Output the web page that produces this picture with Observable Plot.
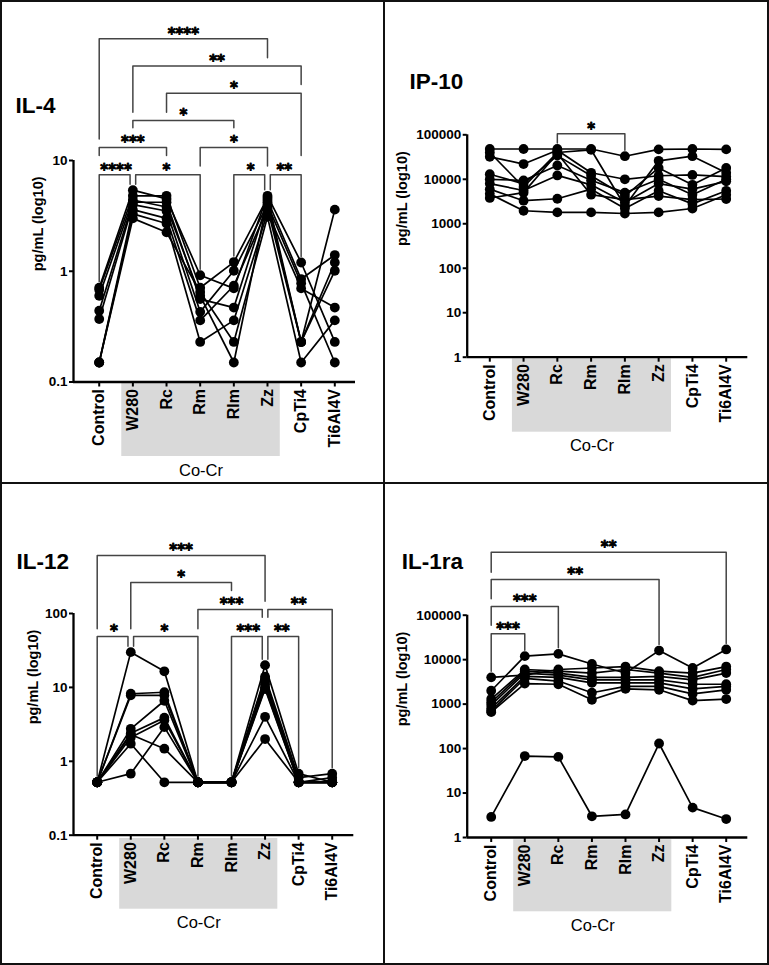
<!DOCTYPE html>
<html><head><meta charset="utf-8">
<script src="https://cdn.jsdelivr.net/npm/d3@7"></script>
<script src="https://cdn.jsdelivr.net/npm/@observablehq/plot@0.6"></script>
<style>
html,body{margin:0;padding:0;background:#fff;}
#fig{position:relative;width:769px;height:965px;overflow:hidden;background:#fff;}
.panel{position:absolute;}
.rule{position:absolute;background:#111;}
</style></head><body>
<div id="fig"></div>
<script>
// ---- categories ----
const categories = ["Control","W280","Rc","Rm","Rlm","Zz","CpTi4","Ti6Al4V"];
const coCrGroup = ["W280","Rc","Rm","Rlm","Zz"];
const groupLabel = "Co-Cr";
const yLabel = "pg/mL (log10)";

// ---- IL-4 ----
const il4Ticks = [0.1, 1, 10];
const il4Values = [
  [0.71, 5.4, 4.5, 0.92, 0.70, 4.8, 1.2, 0.23],
  [0.68, 4.8, 4.8, 0.71, 1.21, 4.6, 0.23, 3.6],
  [0.60, 4.4, 3.8, 0.60, 0.15, 4.4, 0.85, 1.4],
  [0.44, 4.2, 4.2, 0.56, 0.47, 4.2, 0.23, 1.2],
  [0.37, 4.0, 3.5, 0.43, 1.01, 4.0, 0.78, 0.15],
  [0.15, 3.6, 3.0, 0.36, 0.74, 3.7, 0.23, 1.01],
  [0.15, 3.3, 2.7, 0.23, 0.36, 3.4, 0.70, 0.47],
  [0.15, 3.0, 2.25, 0.65, 0.23, 3.1, 0.15, 0.36]
];
// [from, to, label, tier, left leg end tier, right leg end tier] (null = down to data)
const il4Brackets = [
  ["Control","Zz","****",6,2.32,5.30],
  ["W280","CpTi4","**",5,3.30,4.32],
  ["Rc","CpTi4","*",4,3.30,1.71],
  ["W280","Rlm","*",3,2.73,2.73],
  ["Control","Rc","***",2,1.71,1.71],
  ["Rm","Zz","*",2,1.32,1.32],
  ["Control","W280","****",1,null,null],
  ["W280","Rm","*",1,null,null],
  ["Rlm","Zz","*",1,null,null],
  ["Zz","CpTi4","**",1,null,null]
];

// ---- IP-10 ----
const ip10Ticks = [1, 10, 100, 1000, 10000, 100000];
const ip10Values = [
  [48000, 48000, 48000, 48000, 33000, 47000, 48000, 47000],
  [40000, 6700, 40000, 46000, 2500, 26000, 33000, 14000],
  [32000, 22000, 45000, 14000, 10000, 12000, 12500, 11500],
  [13000, 7900, 34000, 12000, 4200, 18000, 7500, 18000],
  [10000, 9400, 20500, 9500, 5000, 10000, 4500, 10000],
  [8000, 5600, 12200, 7500, 3000, 8000, 6000, 9000],
  [6000, 3300, 3650, 6000, 2200, 5500, 2800, 5500],
  [4700, 1960, 1800, 1800, 1700, 1800, 2200, 4500],
  [3800, 5000, 38000, 4500, 3500, 4200, 3500, 3600]
];
const ip10Brackets = [
  ["Rc","Rlm","*",1,null,null]
];

// ---- IL-12 ----
const il12Ticks = [0.1, 1, 10, 100];
const il12Values = [
  [0.52, 30, 16.5, 0.52, 0.52, 20, 0.68, 0.52],
  [0.52, 8.2, 8.6, 0.52, 0.52, 14, 0.6, 0.68],
  [0.52, 7.8, 7.8, 0.52, 0.52, 13, 0.52, 0.52],
  [0.52, 2.75, 6.6, 0.52, 0.52, 12, 0.52, 0.6],
  [0.52, 2.4, 3.9, 0.52, 0.52, 11, 0.52, 0.52],
  [0.52, 2.1, 3.6, 0.52, 0.52, 10, 0.52, 0.52],
  [0.52, 1.73, 0.52, 0.52, 0.52, 9.5, 0.52, 0.52],
  [0.52, 0.68, 2.9, 0.52, 0.52, 4, 0.52, 0.52],
  [0.52, 2.3, 1.48, 0.52, 0.52, 2, 0.52, 0.52]
];
const il12Brackets = [
  ["Control","Zz","***",4,1.29,2.31],
  ["W280","Rlm","*",3,1.29,2.70],
  ["Rm","Zz","***",2,1.29,1.71],
  ["Zz","Ti6Al4V","**",2,1.71,null],
  ["Control","W280","*",1,null,null],
  ["W280","Rm","*",1,null,null],
  ["Rlm","Zz","***",1,null,null],
  ["Zz","CpTi4","**",1,null,null]
];

// ---- IL-1ra ----
const il1raTicks = [1, 10, 100, 1000, 10000, 100000];
const il1raValues = [
  [2000, 12000, 13500, 8000, 5000, 16000, 6500, 17000],
  [4000, 4500, 6000, 6500, 7000, 5500, 5000, 7000],
  [1300, 6000, 5500, 5000, 6000, 5000, 4000, 6000],
  [1100, 5500, 5000, 4000, 4000, 4200, 3500, 5000],
  [950, 5000, 4500, 3500, 3500, 3500, 2800, 2800],
  [800, 4200, 4000, 3000, 3000, 3000, 2200, 2500],
  [700, 3800, 3300, 1800, 2500, 2500, 1700, 2100],
  [660, 2900, 2800, 1250, 2200, 2100, 1200, 1300],
  [2.9, 68, 65, 3.0, 3.3, 130, 4.7, 2.6]
];
const il1raBrackets = [
  ["Control","Ti6Al4V","**",4,3.26,null],
  ["Control","Zz","**",3,2.29,null],
  ["Control","Rc","***",2,1.31,null],
  ["Control","W280","***",1,null,null]
];

const FONT = '"Liberation Sans", Arial, Helvetica, sans-serif';
const STAR_FONT = '"DejaVu Sans", sans-serif';

function buildPanel(cfg) {
  const n = categories.length;
  const rows = [];
  cfg.values.forEach((s, si) => s.forEach((v, i) => rows.push({s: si, i, v})));
  const [y0, y1] = cfg.yDomain;
  const plotH = cfg.height - cfg.mt - cfg.mb;
  const decPx = plotH / Math.log10(y1 / y0);
  const xDom = [-cfg.padL, n - 1 + cfg.padR];
  const step = (cfg.width - cfg.ml - cfg.mr) / (xDom[1] - xDom[0]);
  const atPx = px => y1 * Math.pow(10, -px / decPx);
  const below = px => y0 * Math.pow(10, -px / decPx);
  const tierY = t => atPx(cfg.tier1 - (t - 1) * cfg.tierStep);
  const maxAt = d3.range(n).map(i => d3.max(cfg.values, s => s[i]));
  const legAuto = i => maxAt[i] * Math.pow(10, 6 / decPx);
  const off = 2.8 / step;
  const path = [], labels = [];
  cfg.brackets.forEach(([from, to, label, tier, le, re], k) => {
    const a = categories.indexOf(from), b = categories.indexOf(to);
    const sharedL = cfg.brackets.some(o => o[3] === tier && categories.indexOf(o[1]) === a);
    const sharedR = cfg.brackets.some(o => o[3] === tier && categories.indexOf(o[0]) === b);
    const xa = a + (sharedL ? off : 0), xb = b - (sharedR ? off : 0);
    const y = tierY(tier);
    const ya = le == null ? legAuto(a) : tierY(le);
    const yb = re == null ? legAuto(b) : tierY(re);
    path.push({k, x: xa, y: ya}, {k, x: xa, y}, {k, x: xb, y}, {k, x: xb, y: yb});
    labels.push({x: (a + b) / 2, y, label});
  });
  const gA = categories.indexOf(coCrGroup[0]) - 0.33;
  const gB = categories.indexOf(coCrGroup[coCrGroup.length - 1]) + 0.38;

  return Plot.plot({
    width: cfg.width, height: cfg.height,
    marginLeft: cfg.ml, marginRight: cfg.mr, marginTop: cfg.mt, marginBottom: cfg.mb,
    x: {type: "linear", domain: xDom},
    y: {type: "log", domain: cfg.yDomain},
    style: {fontFamily: FONT, background: "transparent", overflow: "visible", color: "#000"},
    marks: [
      Plot.rect([0], {x1: gA, x2: gB, y1: below(cfg.boxTop), y2: below(cfg.boxBottom), fill: "#d9d9d9"}),
      Plot.axisX({ticks: d3.range(n), tickFormat: i => categories[i], tickSize: 5, tickRotate: -90, tickPadding: 2,
        fontSize: 16, fontWeight: "bold", label: null, strokeWidth: 2, fill: "#000"}),
      Plot.axisY({ticks: cfg.yTicks, tickFormat: d => String(d), tickSize: 4, tickPadding: 2,
        fontSize: 13.5, fontWeight: "bold", label: null, strokeWidth: 2, fill: "#000"}),
      Plot.ruleX([xDom[0]], {y1: y0, y2: y1, strokeWidth: 2.3, stroke: "#000"}),
      Plot.ruleY([y0], {x1: xDom[0], x2: xDom[1], strokeWidth: 2.3, stroke: "#000"}),
      Plot.line(path, {x: "x", y: "y", z: "k", stroke: "#444", strokeWidth: 1.5, curve: "linear"}),
      Plot.text(labels, {x: "x", y: "y", text: "label", dy: -5, fontSize: 15, fontWeight: "bold", fontFamily: STAR_FONT,
        fill: "#000", stroke: "#000", strokeWidth: 0.9}),
      Plot.line(rows, {x: "i", y: "v", z: "s", stroke: "#000", strokeWidth: 1.7}),
      Plot.dot(rows, {x: "i", y: "v", r: 4.9, fill: "#000", stroke: "none"}),
      Plot.text([cfg.title], {text: d => d, frameAnchor: "top-left", dx: cfg.titleX - cfg.ml, dy: cfg.titleBase - cfg.mt,
        textAnchor: "start", lineAnchor: "bottom", fontSize: 22.5, fontWeight: "bold", fill: "#000"}),
      Plot.text([yLabel], {text: d => d, frameAnchor: "left", dx: cfg.yLabelX - cfg.ml, rotate: -90,
        fontSize: 14.5, fontWeight: "bold", fill: "#000"}),
      Plot.text([groupLabel], {text: d => d, x: (gA + gB) / 2, y: y0, dy: cfg.coCrDy, fontSize: 16.5, fill: "#000"})
    ]
  });
}

const panels = [
  {left: 0, top: 0, title: "IL-4", width: 384, height: 482, ml: 73, mr: 29, mt: 160, mb: 100.5,
   padL: 0.764, padR: 0.615, yDomain: [0.1, 10], yTicks: il4Ticks, values: il4Values, brackets: il4Brackets,
   tier1: 14.3, tierStep: 27.2, titleX: 15, titleBase: 112.7, yLabelX: 38.3, boxTop: 1.5, boxBottom: 74.5, coCrDy: 88.5},
  {left: 384, top: 0, title: "IP-10", width: 385, height: 482, ml: 82.7, mr: 21.7, mt: 134.3, mb: 125.3,
   padL: 0.669, padR: 0.64, yDomain: [1, 100000], yTicks: ip10Ticks, values: ip10Values, brackets: ip10Brackets,
   tier1: -1, tierStep: 27.2, titleX: 25, titleBase: 88.3, yLabelX: 18.3, boxTop: 1.6, boxBottom: 75, coCrDy: 88.3},
  {left: 0, top: 482, title: "IL-12", width: 384, height: 483, ml: 73, mr: 30.7, mt: 131, mb: 130.3,
   padL: 0.706, padR: 0.643, yDomain: [0.1, 100], yTicks: il12Ticks, values: il12Values, brackets: il12Brackets,
   tier1: 23, tierStep: 27, titleX: 16, titleBase: 86, yLabelX: 33.3, boxTop: 3.3, boxBottom: 74, coCrDy: 87.3},
  {left: 384, top: 482, title: "IL-1ra", width: 385, height: 483, ml: 82.7, mr: 21.7, mt: 132.7, mb: 128,
   padL: 0.715, padR: 0.643, yDomain: [1, 100000], yTicks: il1raTicks, values: il1raValues, brackets: il1raBrackets,
   tier1: 18.6, tierStep: 27.2, titleX: 17.3, titleBase: 86, yLabelX: 18.3, boxTop: 2.3, boxBottom: 74.3, coCrDy: 88.3}
];

const fig = document.getElementById("fig");
panels.forEach(cfg => {
  const wrap = document.createElement("div");
  wrap.className = "panel";
  wrap.style.left = cfg.left + "px";
  wrap.style.top = cfg.top + "px";
  wrap.appendChild(buildPanel(cfg));
  fig.appendChild(wrap);
});
// frame lines
[[0, 0, 769, 2], [0, 963, 769, 2], [0, 0, 2, 965], [767, 0, 2, 965], [383, 0, 2, 965], [0, 482, 769, 2]].forEach(([l, t, w, h]) => {
  const d = document.createElement("div");
  d.className = "rule";
  Object.assign(d.style, {left: l + "px", top: t + "px", width: w + "px", height: h + "px"});
  fig.appendChild(d);
});
</script>
</body></html>
